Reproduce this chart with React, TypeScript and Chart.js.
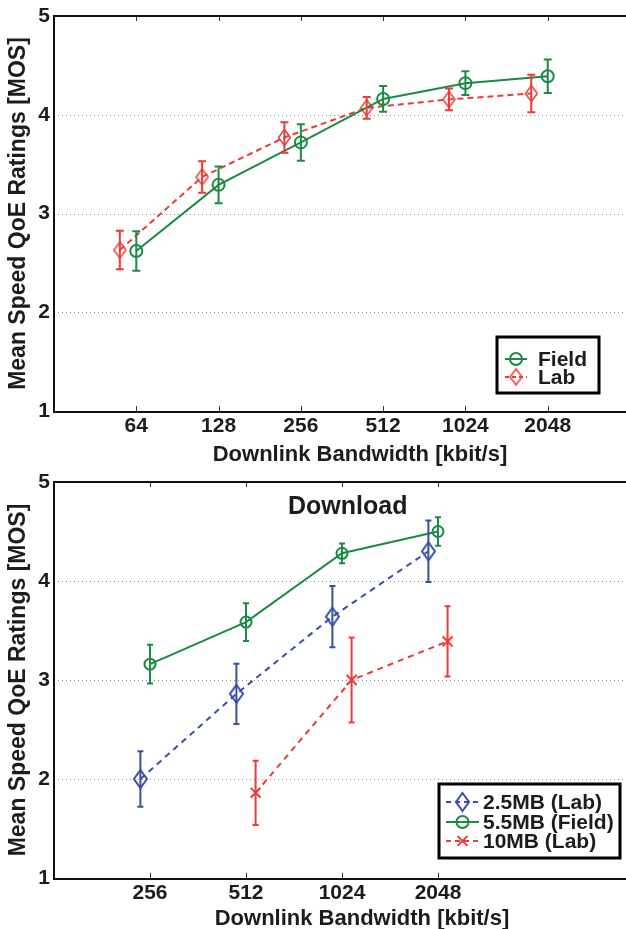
import React, { useEffect, useRef } from 'react';
import { Chart, registerables } from 'chart.js';

Chart.register(...registerables);

const FONT = "'Liberation Sans', Arial, Helvetica, sans-serif";
const TEXT = '#1c1c1c';
const GREEN = '#1b8a43';
const RED = '#ec3b36';
const BLUE = '#3a4ea6';

// ---------- Top chart data ----------
const topBandwidths = [64, 128, 256, 512, 1024, 2048];
const topFieldMean = [2.62, 3.29, 3.72, 4.16, 4.32, 4.39];
const topFieldErr = [0.2, 0.185, 0.185, 0.13, 0.12, 0.17];
const topLabMean = [2.63, 3.37, 3.77, 4.07, 4.155, 4.215];
const topLabErr = [0.195, 0.16, 0.155, 0.11, 0.11, 0.19];

// ---------- Bottom chart data ----------
const botBandwidths = [256, 512, 1024, 2048];
const dl25Mean = [2.0, 2.86, 3.64, 4.3];
const dl25Err = [0.28, 0.305, 0.31, 0.31];
const dl55Mean = [3.16, 3.585, 4.28, 4.5];
const dl55Err = [0.195, 0.19, 0.1, 0.145];
const dl10Bandwidths = [512, 1024, 2048];
const dl10Mean = [1.86, 3.0, 3.39];
const dl10Err = [0.325, 0.43, 0.355];

const yTickValues = [1, 2, 3, 4, 5];
const gridValues = [2, 3, 4];

const xTitle = 'Downlink Bandwidth [kbit/s]';
const yTitle = 'Mean Speed QoE Ratings [MOS]';

function diamondImg(color: string, w: number, h: number, lw: number) {
  const c = document.createElement('canvas');
  c.width = Math.ceil(w + lw * 2 + 2);
  c.height = Math.ceil(h + lw * 2 + 2);
  const ctx = c.getContext('2d')!;
  const cx = c.width / 2;
  const cy = c.height / 2;
  ctx.strokeStyle = color;
  ctx.lineWidth = lw;
  ctx.beginPath();
  ctx.moveTo(cx, cy - h / 2);
  ctx.lineTo(cx + w / 2, cy);
  ctx.lineTo(cx, cy + h / 2);
  ctx.lineTo(cx - w / 2, cy);
  ctx.closePath();
  ctx.stroke();
  return c;
}

const toPoints = (bws: number[], means: number[], shift: number) =>
  bws.map((b, i) => ({ x: Math.log2(b) + shift, y: means[i] }));

type LegendItem = {
  label: string;
  color: string;
  dash: number[];
  marker: 'circle' | 'diamond' | 'cross';
  img?: HTMLCanvasElement;
  size: number;
};

type Deco = {
  errWidth: number;
  capW: number;
  legendBox: [number, number, number, number];
  legendRows: number[];
  legendLine: [number, number];
  legendText: number;
  legendFont: number;
  legend: LegendItem[];
  xTitlePos: [number, number];
  note?: { text: string; xv: number; yv: number };
};

function decoPlugin(cfg: Deco) {
  return {
    id: 'deco',
    beforeDatasetsDraw(chart: any) {
      const { ctx, chartArea: a, scales } = chart;
      ctx.save();
      ctx.strokeStyle = '#8a8a8a';
      ctx.lineWidth = 1;
      ctx.setLineDash([1, 3]);
      for (const v of gridValues) {
        const y = Math.round(scales.y.getPixelForValue(v)) + 0.5;
        ctx.beginPath();
        ctx.moveTo(a.left, y);
        ctx.lineTo(a.right, y);
        ctx.stroke();
      }
      ctx.restore();
    },
    afterDatasetsDraw(chart: any) {
      const { ctx, scales } = chart;
      chart.data.datasets.forEach((ds: any, i: number) => {
        const meta = chart.getDatasetMeta(i);
        ctx.save();
        ctx.strokeStyle = ds.borderColor;
        ctx.lineWidth = cfg.errWidth;
        ctx.setLineDash([]);
        meta.data.forEach((pt: any, j: number) => {
          const d = ds.data[j];
          const e = ds.errors[j];
          const yT = scales.y.getPixelForValue(d.y + e);
          const yB = scales.y.getPixelForValue(d.y - e);
          const x = pt.x;
          ctx.beginPath();
          ctx.moveTo(x, yT);
          ctx.lineTo(x, yB);
          ctx.moveTo(x - cfg.capW / 2, yT);
          ctx.lineTo(x + cfg.capW / 2, yT);
          ctx.moveTo(x - cfg.capW / 2, yB);
          ctx.lineTo(x + cfg.capW / 2, yB);
          ctx.stroke();
        });
        ctx.restore();
      });
    },
    afterDraw(chart: any) {
      const { ctx, chartArea: a, scales } = chart;
      ctx.save();
      // inward tick marks
      ctx.strokeStyle = '#333';
      ctx.lineWidth = 1;
      for (const t of scales.x.ticks) {
        const x = Math.round(scales.x.getPixelForValue(t.value)) + 0.5;
        ctx.beginPath();
        ctx.moveTo(x, a.top);
        ctx.lineTo(x, a.top + 5);
        ctx.moveTo(x, a.bottom);
        ctx.lineTo(x, a.bottom - 5);
        ctx.stroke();
      }
      // axes box
      ctx.strokeStyle = '#111';
      ctx.lineWidth = 2;
      ctx.beginPath();
      ctx.moveTo(a.left, a.top);
      ctx.lineTo(a.right, a.top);
      ctx.moveTo(a.left, a.top - 1);
      ctx.lineTo(a.left, a.bottom + 1);
      ctx.lineTo(a.right, a.bottom + 1);
      ctx.moveTo(a.right, a.top);
      ctx.lineTo(a.right, a.bottom);
      ctx.stroke();

      // x title
      ctx.fillStyle = TEXT;
      ctx.font = `bold 22px ${FONT}`;
      ctx.textAlign = 'center';
      ctx.textBaseline = 'middle';
      ctx.fillText(xTitle, cfg.xTitlePos[0], cfg.xTitlePos[1]);

      // note
      if (cfg.note) {
        ctx.font = `bold 25px ${FONT}`;
        ctx.fillText(
          cfg.note.text,
          scales.x.getPixelForValue(cfg.note.xv),
          scales.y.getPixelForValue(cfg.note.yv)
        );
      }

      // legend
      const [bx1, by1, bx2, by2] = cfg.legendBox;
      ctx.fillStyle = '#fff';
      ctx.fillRect(bx1, by1, bx2 - bx1, by2 - by1);
      ctx.strokeStyle = '#000';
      ctx.lineWidth = 3;
      ctx.strokeRect(bx1, by1, bx2 - bx1, by2 - by1);
      cfg.legend.forEach((it, i) => {
        const y = cfg.legendRows[i];
        const [lx1, lx2] = cfg.legendLine;
        const mx = (lx1 + lx2) / 2;
        ctx.strokeStyle = it.color;
        ctx.lineWidth = 2;
        ctx.setLineDash(it.dash);
        ctx.beginPath();
        ctx.moveTo(lx1, y);
        ctx.lineTo(lx2, y);
        ctx.stroke();
        ctx.setLineDash([]);
        if (it.marker === 'circle') {
          ctx.beginPath();
          ctx.arc(mx, y, it.size, 0, Math.PI * 2);
          ctx.stroke();
        } else if (it.marker === 'diamond' && it.img) {
          ctx.drawImage(it.img, mx - it.img.width / 2, y - it.img.height / 2);
        } else if (it.marker === 'cross') {
          const s = it.size * 0.7;
          ctx.beginPath();
          ctx.moveTo(mx - s, y - s);
          ctx.lineTo(mx + s, y + s);
          ctx.moveTo(mx - s, y + s);
          ctx.lineTo(mx + s, y - s);
          ctx.stroke();
        }
        ctx.fillStyle = TEXT;
        ctx.font = `bold ${cfg.legendFont}px ${FONT}`;
        ctx.textAlign = 'left';
        ctx.textBaseline = 'middle';
        ctx.fillText(it.label, cfg.legendText, y + 1);
      });
      ctx.restore();
    },
  };
}

function baseOptions(
  bws: number[],
  xmin: number,
  xmax: number,
  xAxisHeight: number
): any {
  const tickFont = { family: FONT, size: 21, weight: 'bold' as const };
  return {
    responsive: false,
    animation: false,
    layout: { autoPadding: false, padding: { top: 16, right: 0, left: 0, bottom: 0 } },
    plugins: { legend: { display: false }, tooltip: { enabled: false } },
    scales: {
      x: {
        type: 'linear',
        min: xmin,
        max: xmax,
        afterBuildTicks: (s: any) => {
          s.ticks = bws.map((b) => ({ value: Math.log2(b) }));
        },
        afterFit: (s: any) => {
          s.height = xAxisHeight;
          s.paddingLeft = 0;
          s.paddingRight = 0;
        },
        ticks: {
          callback: (v: number) => String(Math.round(Math.pow(2, v))),
          font: tickFont,
          color: TEXT,
          padding: 3,
          maxRotation: 0,
          autoSkip: false,
        },
        grid: { display: false, drawTicks: false },
        border: { display: false },
      },
      y: {
        min: yTickValues[0],
        max: yTickValues[yTickValues.length - 1],
        afterBuildTicks: (s: any) => {
          s.ticks = yTickValues.map((v) => ({ value: v }));
        },
        afterFit: (s: any) => {
          s.width = 54;
          s.paddingTop = 0;
          s.paddingBottom = 0;
        },
        ticks: {
          font: tickFont,
          color: TEXT,
          padding: 4,
          callback: (v: number) => String(v),
        },
        grid: { display: false, drawTicks: false },
        border: { display: false },
        title: {
          display: true,
          text: yTitle,
          color: TEXT,
          font: { family: FONT, size: 23, weight: 'bold' },
          padding: { top: 5, bottom: 0 },
        },
      },
    },
  };
}

function topConfig(): any {
  const labDiamond = diamondImg(RED, 12, 16, 1.5);
  return {
    type: 'line',
    data: {
      datasets: [
        {
          label: 'Field',
          data: toPoints(topBandwidths, topFieldMean, 0),
          errors: topFieldErr,
          borderColor: GREEN,
          backgroundColor: 'rgba(0,0,0,0)',
          borderWidth: 2,
          pointStyle: 'circle',
          pointRadius: 6,
          pointBorderWidth: 2,
          pointBackgroundColor: 'rgba(0,0,0,0)',
          pointBorderColor: GREEN,
          tension: 0,
        },
        {
          label: 'Lab',
          data: toPoints(topBandwidths, topLabMean, -0.2),
          errors: topLabErr,
          borderColor: RED,
          backgroundColor: 'rgba(0,0,0,0)',
          borderWidth: 2,
          borderDash: [6, 4],
          pointStyle: labDiamond,
          pointRadius: 8,
          tension: 0,
        },
      ],
    },
    options: baseOptions(topBandwidths, 5, 12, 59),
    plugins: [
      decoPlugin({
        errWidth: 2,
        capW: 8,
        legendBox: [497, 337, 599, 393],
        legendRows: [359, 377],
        legendLine: [505, 527],
        legendText: 538,
        legendFont: 21,
        legend: [
          { label: 'Field', color: GREEN, dash: [], marker: 'circle', size: 6 },
          { label: 'Lab', color: RED, dash: [4, 3], marker: 'diamond', img: labDiamond, size: 8 },
        ],
        xTitlePos: [360, 455],
      }),
    ],
  };
}

function bottomConfig(): any {
  const blueDiamond = diamondImg(BLUE, 13, 18, 2);
  return {
    type: 'line',
    data: {
      datasets: [
        {
          label: '2.5MB (Lab)',
          data: toPoints(botBandwidths, dl25Mean, -0.1),
          errors: dl25Err,
          borderColor: BLUE,
          backgroundColor: 'rgba(0,0,0,0)',
          borderWidth: 2,
          borderDash: [6, 5],
          pointStyle: blueDiamond,
          pointRadius: 9,
          tension: 0,
        },
        {
          label: '5.5MB (Field)',
          data: toPoints(botBandwidths, dl55Mean, 0),
          errors: dl55Err,
          borderColor: GREEN,
          backgroundColor: 'rgba(0,0,0,0)',
          borderWidth: 2,
          pointStyle: 'circle',
          pointRadius: 5.5,
          pointBorderWidth: 2,
          pointBackgroundColor: 'rgba(0,0,0,0)',
          pointBorderColor: GREEN,
          tension: 0,
        },
        {
          label: '10MB (Lab)',
          data: toPoints(dl10Bandwidths, dl10Mean, 0.1),
          errors: dl10Err,
          borderColor: RED,
          backgroundColor: 'rgba(0,0,0,0)',
          borderWidth: 2,
          borderDash: [6, 5],
          pointStyle: 'crossRot',
          pointRadius: 7,
          pointBorderWidth: 2,
          pointBorderColor: RED,
          tension: 0,
        },
      ],
    },
    options: baseOptions(botBandwidths, 7, 13, 54),
    plugins: [
      decoPlugin({
        errWidth: 2,
        capW: 6,
        legendBox: [439, 318, 620, 392],
        legendRows: [336, 356, 375],
        legendLine: [446, 479],
        legendText: 483,
        legendFont: 21,
        legend: [
          { label: '2.5MB (Lab)', color: BLUE, dash: [5, 4], marker: 'diamond', img: blueDiamond, size: 9 },
          { label: '5.5MB (Field)', color: GREEN, dash: [], marker: 'circle', size: 6 },
          { label: '10MB (Lab)', color: RED, dash: [5, 4], marker: 'cross', size: 7 },
        ],
        xTitlePos: [362, 453],
        note: { text: 'Download', xv: 10.06, yv: 4.75 },
      }),
    ],
  };
}

function ChartBox({ make, top, width, height }: { make: () => any; top: number; width: number; height: number }) {
  const ref = useRef<HTMLCanvasElement | null>(null);
  useEffect(() => {
    if (!ref.current) return;
    const chart = new Chart(ref.current, make());
    return () => chart.destroy();
  }, []);
  return (
    <div style={{ position: 'absolute', left: 0, top, width, height }}>
      <canvas ref={ref} width={width} height={height} style={{ display: 'block', width, height }} />
    </div>
  );
}

export default function App() {
  return (
    <div
      style={{
        position: 'absolute',
        left: 0,
        top: 0,
        width: 626,
        height: 929,
        overflow: 'hidden',
        background: '#fff',
      }}
    >
      <ChartBox make={topConfig} top={0} width={630} height={470} />
      <ChartBox make={bottomConfig} top={466} width={630} height={466} />
    </div>
  );
}
